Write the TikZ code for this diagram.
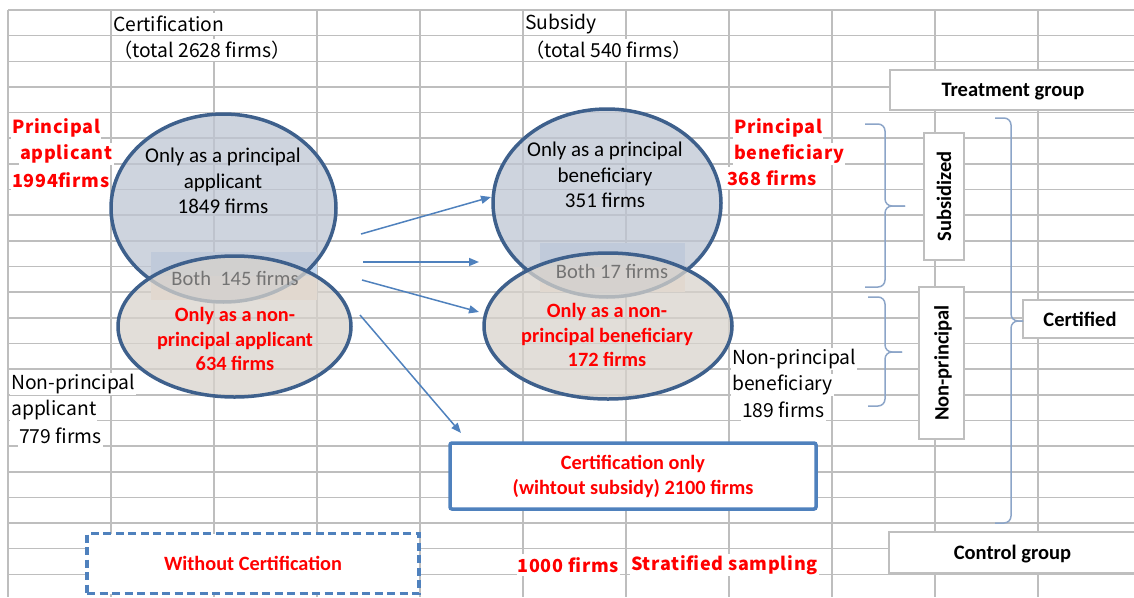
\documentclass[tikz,border=0pt]{standalone}
\usepackage{fontspec}
\setmainfont{Carlito}
\newfontfamily\gothic{Noto Sans CJK JP}
\newfontfamily\gothicwide{Noto Sans CJK JP}[LetterSpace=4.0]
\usepackage{tikz}
\usetikzlibrary{positioning}
\usetikzlibrary{shapes.geometric}
\usetikzlibrary{arrows.meta}
\definecolor{gridColor}{RGB}{190,190,190}
\definecolor{ellipseBorder}{RGB}{62,96,140}
\definecolor{principalFill}{RGB}{190,198,211}
\definecolor{nonprincipalFill}{RGB}{216,211,204}
\definecolor{bothBlue}{RGB}{198,217,240}
\definecolor{bothPeach}{RGB}{253,234,218}
\definecolor{arrowColor}{RGB}{79,129,189}
\definecolor{braceColor}{RGB}{140,165,200}
\definecolor{boxBorder}{RGB}{191,191,191}
\definecolor{redText}{RGB}{255,0,0}

\begin{document}
\begin{tikzpicture}[x=1pt,y=-1pt]

  \tikzstyle{gridLine} = [gridColor, line width=1.6pt];
  \tikzstyle{cellText} = [anchor=west, fill=white, inner sep=1pt, minimum height=22pt, font=\gothic\fontsize{19.3}{21}\selectfont];
  \tikzstyle{redCell} = [cellText, text=redText, font=\gothicwide\bfseries\fontsize{18}{20}\selectfont];
  \tikzstyle{setEllipse} = [ellipse, draw=ellipseBorder, line width=3.5pt, fill opacity=0.75, inner sep=0pt];
  \tikzstyle{ellipseText} = [align=center, font=\fontsize{21}{25.5}\selectfont];
  \tikzstyle{redEllipseText} = [ellipseText, text=redText, font=\bfseries\fontsize{20.3}{24.5}\selectfont];
  \tikzstyle{bothText} = [text=black!55, font=\fontsize{20.5}{24}\selectfont];
  \tikzstyle{flowArrow} = [arrowColor, line width=1.5pt, -{Triangle[length=10pt,width=8pt]}];
  \tikzstyle{resultBox} = [draw=arrowColor, line width=3.5pt, fill=white, align=center, text=redText, font=\bfseries\fontsize{20.3}{25}\selectfont];
  \tikzstyle{groupBox} = [draw=boxBorder, line width=1.3pt, fill=white, inner sep=0pt, text depth=0pt, font=\bfseries\fontsize{20.5}{24}\selectfont];
  \tikzstyle{braceLine} = [braceColor, line width=1.5pt, rounded corners=7pt];

  \useasboundingbox (0,0) rectangle (1134,597);
  \clip (0,0) rectangle (1134,597);

  % sheet grid
  \foreach \rowIdx in {0,...,23}
    \draw[gridLine] (8,10+25.65*\rowIdx) -- (1134,10+25.65*\rowIdx);
  \foreach \colIdx in {0,...,11}
    \draw[gridLine] (8+103*\colIdx,10) -- (8+103*\colIdx,597);

  % cells under the overlaps
  \fill[bothBlue] (151,252) rectangle (317,276);
  \fill[bothPeach] (151,276) rectangle (317,300);
  \fill[bothBlue] (540,243) rectangle (685,267);
  \fill[bothPeach] (540,267) rectangle (685,292);

  \node[setEllipse, fill=principalFill, minimum width=225pt, minimum height=188pt] (appPrin) at (223.5,208) {};
  \node[setEllipse, fill=principalFill, minimum width=228pt, minimum height=188pt] (benPrin) at (607,203) {};
  \node[setEllipse, fill=nonprincipalFill, minimum width=233pt, minimum height=141pt] (appNonPrin) at (234.5,326.5) {};
  \node[setEllipse, fill=nonprincipalFill, minimum width=248pt, minimum height=146pt] (benNonPrin) at (608,326) {};

  \node[ellipseText] (appPrinText) at (223,181) {Only as a principal\\applicant\\1849 firms};
  \node[ellipseText] (benPrinText) at (605,175) {Only as a principal\\beneficiary\\351 firms};
  \node[redEllipseText] (appNonPrinText) at (235,339) {Only as a non-\\principal applicant\\634 firms};
  \node[redEllipseText] (benNonPrinText) at (607,335) {Only as a non-\\principal beneficiary\\172 firms};
  \node[bothText] (appBoth) at (235,278) {Both~ 145 firms};
  \node[bothText] (benBoth) at (612,271) {Both 17 firms};

  % sheet texts
  \node[cellText] (certTitle) at (112,24) {Certification};
  \node[cellText] (certTotal) at (112,50) {（total 2628 firms）};
  \node[cellText] (subTitle) at (524,24) {Subsidy};
  \node[cellText] (subTotal) at (524,50) {（total 540 firms）};
  \node[redCell] (appPrinA) at (11,128) {Principal};
  \node[redCell] (appPrinB) at (19,154) {applicant};
  \node[redCell] (appPrinC) at (11,180) {1994firms};
  \node[redCell] (benPrinA) at (733,128) {Principal};
  \node[redCell] (benPrinB) at (733,154) {beneficiary};
  \node[redCell] (benPrinC) at (726,178) {368 firms};
  \node[cellText] (appNonA) at (10,384) {Non-principal};
  \node[cellText] (appNonB) at (10,410) {applicant};
  \node[cellText] (appNonC) at (18,436) {779 firms};
  \node[cellText] (benNonA) at (731,359) {Non-principal};
  \node[cellText] (benNonB) at (731,385) {beneficiary};
  \node[cellText] (benNonC) at (741,410) {189 firms};
  \node[redCell, anchor=east] (sampleA) at (620,565) {1000 firms};
  \node[redCell] (sampleB) at (630,565) {Stratified sampling};

  % outcome boxes
  \node[resultBox, rounded corners=2pt, minimum width=366pt, minimum height=66pt] (certOnly) at (633,476) {Certification only\\(wihtout subsidy) 2100 firms};
  \node[resultBox, dash pattern=on 8pt off 4.5pt, minimum width=332pt, minimum height=60pt] (noCert) at (253,563.5) {Without Certification};

  \coordinate (fromA) at (361,234);
  \coordinate (fromB) at (363,262);
  \coordinate (fromC) at (362,280);
  \coordinate (fromD) at (360,315);
  \coordinate (toA) at (491,197);
  \coordinate (toB) at (479,262);
  \coordinate (toC) at (479,312);
  \coordinate (toD) at (461,433);

  \draw[flowArrow] (fromA) -- (toA);
  \draw[flowArrow] (fromB) -- (toB);
  \draw[flowArrow] (fromC) -- (toC);
  \draw[flowArrow] (fromD) -- (toD);

  % groups on the right
  \node[groupBox, minimum width=246pt, minimum height=40pt] (treatment) at (1013,90) {Treatment group};
  \node[groupBox, minimum width=247pt, minimum height=41pt] (control) at (1012.5,552.5) {Control group};
  \node[groupBox, minimum width=114pt, minimum height=38pt] (certified) at (1080,319) {Certified};
  \node[groupBox, rotate=90, minimum width=127pt, minimum height=40pt] (subsidized) at (944,196.5) {Subsidized};
  \node[groupBox, rotate=90, minimum width=152pt, minimum height=45pt] (nonPrincipal) at (941.5,363) {Non-principal};

  \coordinate (subTip) at (905,206);
  \coordinate (nonTip) at (902,352);
  \coordinate (certTip) at (1023,321);

  \draw[braceLine] (865,124) -| (885,206) -- (subTip);
  \draw[braceLine] (865,287) -| (885,206) -- (subTip);
  \draw[braceLine] (868,297) -| (885,352) -- (nonTip);
  \draw[braceLine] (868,406) -| (885,352) -- (nonTip);
  \draw[braceLine] (995,118) -| (1011,321) -- (certTip);
  \draw[braceLine] (995,523) -| (1011,321) -- (certTip);

\end{tikzpicture}
\end{document}
